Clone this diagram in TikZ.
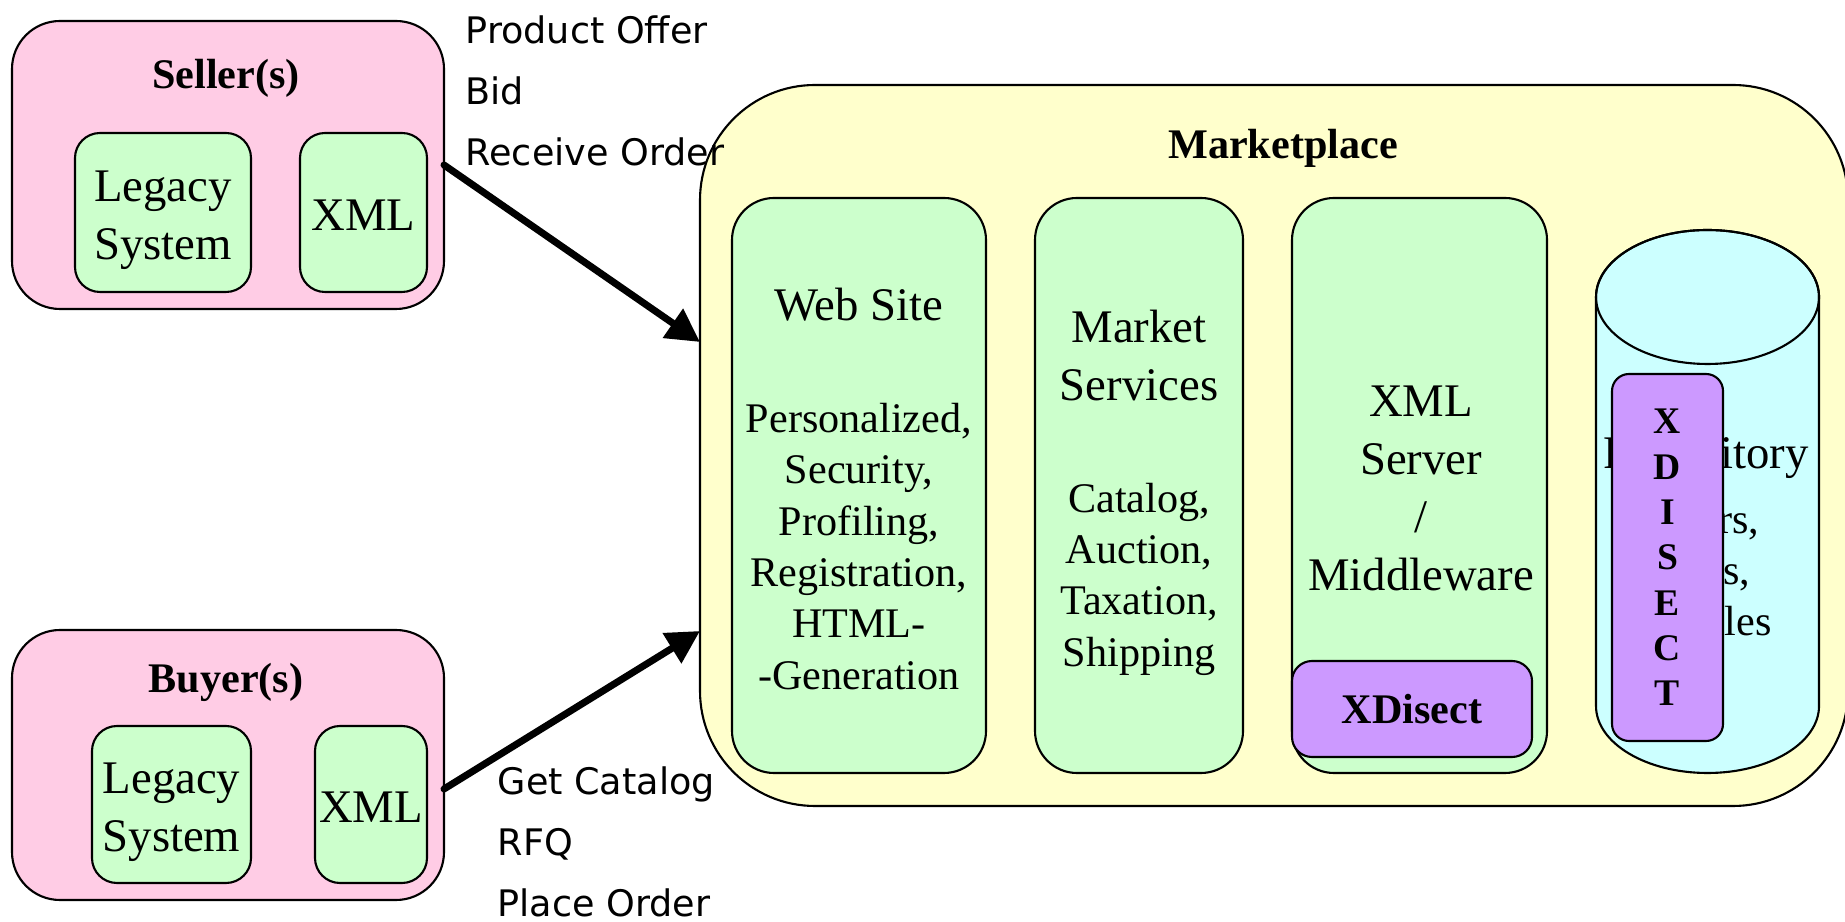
\documentclass[tikz,border=0pt]{standalone}
\usepackage{fontspec}
\setmainfont{Liberation Serif}
\newfontfamily\flowfont{DejaVu Sans}
\usetikzlibrary{arrows.meta}

\definecolor{partypink}{HTML}{FFCCE5}
\definecolor{partsgreen}{HTML}{CCFFCC}
\definecolor{marketyellow}{HTML}{FFFFCC}
\definecolor{repocyan}{HTML}{CCFFFF}
\definecolor{disectpurple}{HTML}{CC99FF}

\tikzset{
  outline/.style={draw, line width=0.6pt, inner sep=0pt, outer sep=0pt},
  party/.style={outline, fill=partypink, rounded corners=0.48cm},
  part/.style={outline, fill=partsgreen, rounded corners=0.25cm},
  column/.style={outline, fill=partsgreen, rounded corners=0.42cm},
  market/.style={outline, fill=marketyellow, rounded corners=1.15cm},
  disect/.style={outline, fill=disectpurple, rounded corners=0.2cm, align=center,
    font=\bfseries\fontsize{12pt}{14pt}\selectfont},
  title/.style={inner sep=0pt, font=\bfseries\fontsize{12pt}{14pt}\selectfont},
  maintext/.style={inner sep=0pt, align=center, font=\fontsize{13.3pt}{16.5pt}\selectfont},
  subtext/.style={inner sep=0pt, align=center, font=\fontsize{12pt}{14.6pt}\selectfont},
  flowtext/.style={inner sep=0pt, align=left, anchor=west, font=\flowfont\fontsize{10.4pt}{17.4pt}\selectfont},
  flow/.style={line width=2pt, line cap=round, -{Triangle[length=0.33cm, width=0.34cm]}}
}

\begin{document}
\begin{tikzpicture}
\useasboundingbox (0,0) rectangle (18.45,9.21);

% seller side
\node [party, minimum width=4.32cm, minimum height=2.88cm] (seller) at (2.28,7.56) {};
\node [title] (sellertitle) at (2.26,8.43) {Seller(s)};
\node [part, minimum width=1.76cm, minimum height=1.59cm] (sellerlegacy) at (1.63,7.085) {};
\node [maintext] (sellerlegacytext) at (1.63,7.01) {Legacy\\System};
\node [part, minimum width=1.27cm, minimum height=1.59cm] (sellerxml) at (3.635,7.085) {};
\node [maintext] (sellerxmltext) at (3.635,7.06) {XML};

% buyer side
\node [party, minimum width=4.32cm, minimum height=2.70cm] (buyer) at (2.28,1.56) {};
\node [title] (buyertitle) at (2.26,2.39) {Buyer(s)};
\node [part, minimum width=1.59cm, minimum height=1.57cm] (buyerlegacy) at (1.715,1.165) {};
\node [maintext] (buyerlegacytext) at (1.715,1.09) {Legacy\\System};
\node [part, minimum width=1.12cm, minimum height=1.57cm] (buyerxml) at (3.71,1.165) {};
\node [maintext] (buyerxmltext) at (3.71,1.14) {XML};

% marketplace
\node [market, minimum width=11.48cm, minimum height=7.21cm] (market) at (12.74,4.755) {};
\node [title] (markettitle) at (12.83,7.73) {Marketplace};

\node [column, minimum width=2.54cm, minimum height=5.75cm] (web) at (8.59,4.355) {};
\node [maintext] (webtitle) at (8.59,6.16) {Web Site};
\node [subtext] (weblist) at (8.59,3.745) {Personalized,\\Security,\\Profiling,\\Registration,\\HTML-\\-Generation};

\node [column, minimum width=2.08cm, minimum height=5.75cm] (services) at (11.39,4.355) {};
\node [maintext] (servicestitle) at (11.39,5.65) {Market\\Services};
\node [subtext] (serviceslist) at (11.39,3.42) {Catalog,\\Auction,\\Taxation,\\Shipping};

\node [column, minimum width=2.55cm, minimum height=5.75cm] (server) at (14.195,4.355) {};
\node [maintext] (servertitle) at (14.21,4.33) {XML\\Server\\/\\Middleware};
\node [disect, minimum width=2.40cm, minimum height=0.96cm] (xdisect) at (14.12,2.12) {XDisect};

% repository drum
\draw [line width=0.6pt, fill=repocyan] (15.96,6.24) -- (15.96,2.15)
  arc [start angle=180, end angle=360, x radius=1.115, y radius=0.67] -- (18.19,6.24)
  arc [start angle=0, end angle=180, x radius=1.115, y radius=0.67] -- cycle;
\draw [line width=0.6pt] (17.075,6.24) ellipse [x radius=1.115, y radius=0.67];
\coordinate (repository) at (17.075,4.195);
\node [maintext] (repotitle) at (17.06,4.63) {Repository};
\node [subtext] (repolist) at (17.06,3.50) {Users,\\Bids,\\Profiles};
\node [disect, minimum width=1.11cm, minimum height=3.67cm, rounded corners=0.17cm,
  font=\bfseries\fontsize{10.7pt}{12.9pt}\selectfont] (repodisect) at (16.675,3.635) {X\\D\\I\\S\\E\\C\\T};

% messages
\draw [flow] (seller.east) -- ([yshift=1.035cm]market.west);
\draw [flow] ([yshift=-0.24cm]buyer.east) -- ([yshift=-1.855cm]market.west);
\node [flowtext] (sellermsg) at (4.65,8.30) {Product Offer\\Bid\\Receive Order};
\node [flowtext] (buyermsg) at (4.97,0.79) {Get Catalog\\RFQ\\Place Order};
\end{tikzpicture}
\end{document}
